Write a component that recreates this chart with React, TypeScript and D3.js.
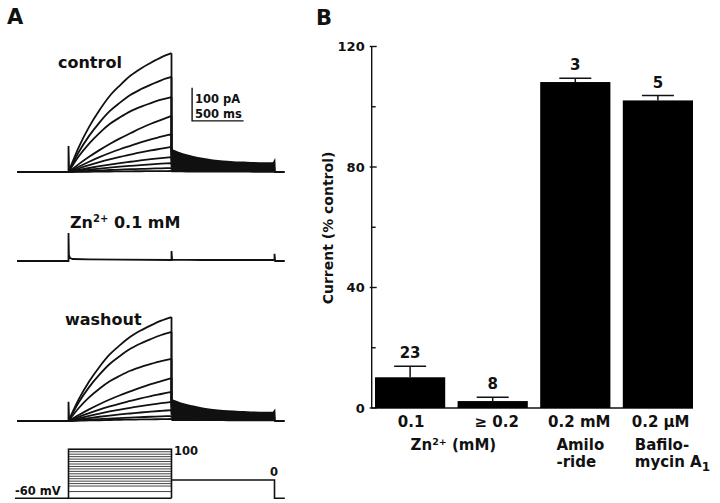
import React from "react";
import * as d3 from "d3";

const W = 720;
const H = 503;
const FONT = "'DejaVu Sans', sans-serif";

// ---------- Panel A data (time in ms, current in pA, voltage in mV) ----------
const onsetT = 500;
const stepEndT = 1500;
const tailEndT = 2500;
const traceEndT = 2600;
const fracGrid = [0, 0.1, 0.2, 0.3, 0.4, 0.5, 0.6, 0.7, 0.8, 0.9, 1.0];
const curvedShape = [0, 0.21, 0.38, 0.52, 0.64, 0.73, 0.81, 0.87, 0.92, 0.965, 1];
const mildShape = [0, 0.14, 0.27, 0.39, 0.5, 0.6, 0.69, 0.78, 0.86, 0.93, 1];
const tailShape = [1, 0.82, 0.7, 0.6, 0.53, 0.48, 0.45, 0.43, 0.41, 0.4, 0.4];

const controlAmps = [360, 288, 227, 170, 115, 76, 45, 27, 12, 3];
const controlTailAmps = [67, 60, 53, 46, 38, 30, 22, 14, 7, 2];
const washoutAmps = [315, 270, 188, 130, 88, 58, 33, 15, 6];
const washoutTailAmps = [64, 58, 50, 42, 34, 26, 18, 10, 5];
const controlSpike = 79;
const washoutSpike = 58;
const controlEndSpike = 33;
const washoutEndSpike = 30;

const znTrace: [number, number][] = [
  [0, 0], [500, 0], [500, 85], [504, 18], [515, 9], [540, 6], [700, 5], [1000, 4],
  [1500, 3], [1500, 30], [1506, 4], [1800, 3], [2200, 3], [2500, 3], [2500, 22],
  [2506, 0], [2600, 0],
];

const stepLevels = [100, 92, 84, 76, 68, 60, 52, 44, 36, 28, 20, 12, 4, -4, -12, -20, -38];
const holdingMV = -60;
const tailMV = 0;

// ---------- Panel B data ----------
const categories = ["0.1", "\u2265 0.2", "0.2 mM", "0.2 \u00b5M"];
const values = [10.2, 2.3, 108.2, 102.1];
const sems = [3.7, 1.3, 1.3, 1.6];
const ns = ["23", "8", "3", "5"];
const majorTicks = [0, 40, 80, 120];
const minorTicks = [20, 60, 100];

export default function App() {
  const x = d3.scaleLinear().domain([0, 2600]).range([17, 284.8]);
  const mkY = (base: number) => d3.scaleLinear().domain([0, 100]).range([base, base - 33]);
  const yC = mkY(172);
  const yZ = mkY(261);
  const yW = mkY(421);
  const v = d3.scaleLinear().domain([-60, 100]).range([498.3, 449.3]);

  const lin = (y: d3.ScaleLinear<number, number>) =>
    d3.line<[number, number]>().x((d) => x(d[0])).y((d) => y(d[1]));
  const mono = (y: d3.ScaleLinear<number, number>) =>
    d3.line<[number, number]>().x((d) => x(d[0])).y((d) => y(d[1])).curve(d3.curveMonotoneX);

  const SW = 1.8;

  const traceSet = (
    amps: number[],
    tails: number[],
    y: d3.ScaleLinear<number, number>,
    spike: number,
    endSpike: number,
    key: string
  ) => {
    const L = lin(y);
    const M = mono(y);
    const tailPts0: [number, number][] = fracGrid.map((f, i) => [
      stepEndT + f * (tailEndT - stepEndT),
      tails[0] * tailShape[i],
    ]);
    const area = d3
      .area<[number, number]>()
      .x((d) => x(d[0]))
      .y0(y(0))
      .y1((d) => y(d[1]))
      .curve(d3.curveMonotoneX);
    const els: React.ReactNode[] = [];
    els.push(<path key={key + "env"} d={area(tailPts0) || ""} fill="#111" />);
    amps.forEach((a, k) => {
      const shape = k < 3 ? curvedShape : mildShape;
      const rise: [number, number][] = fracGrid.map((f, i) => [onsetT + f * (stepEndT - onsetT), a * shape[i]]);
      const tail: [number, number][] = fracGrid.map((f, i) => [
        stepEndT + f * (tailEndT - stepEndT),
        tails[k] * tailShape[i],
      ]);
      const drop: [number, number][] = [
        [stepEndT, a],
        [stepEndT, tails[k]],
      ];
      const d = (M(rise) || "") + (L(drop) || "") + (M(tail) || "");
      els.push(<path key={key + k} d={d} fill="none" stroke="#111" strokeWidth={SW} />);
    });
    const base: [number, number][] = [
      [0, 0],
      [onsetT, 0],
      [onsetT, spike],
      [onsetT + 5, spike * 0.15],
      [onsetT + 20, 4],
    ];
    const endPts: [number, number][] = [
      [tailEndT - 10, tails[0] * tailShape[10]],
      [tailEndT, endSpike],
      [tailEndT + 5, 0],
      [traceEndT, 0],
    ];
    els.push(<path key={key + "base"} d={L(base) || ""} fill="none" stroke="#111" strokeWidth={SW} />);
    els.push(<path key={key + "end"} d={L(endPts) || ""} fill="none" stroke="#111" strokeWidth={SW} />);
    return els;
  };

  // Panel B scales
  const xb = d3.scaleBand<string>().domain(categories).range([375, 693]).paddingInner(0.15).paddingOuter(0);
  const yb = d3.scaleLinear().domain([0, 120]).range([408, 46.5]);
  const axisX = 371.7;

  const tb = { fontFamily: FONT, fontWeight: "bold" as const, fill: "#111" };

  return (
    <svg width={W} height={H} style={{ position: "absolute", left: 0, top: 0, background: "#fff" }}>
      <rect x={0} y={0} width={W} height={H} fill="#fff" />
      {/* Panel letters */}
      <text x={7} y={24} fontSize={21} {...tb}>A</text>
      <text x={316} y={25} fontSize={21} {...tb}>B</text>

      {/* Control */}
      <text x={58} y={68} fontSize={16} {...tb}>control</text>
      {traceSet(controlAmps, controlTailAmps, yC, controlSpike, controlEndSpike, "c")}
      {/* Scale bar */}
      <path
        d={`M${x(1700)},${yC(255)}V${yC(155)}H${x(2200)}`}
        fill="none"
        stroke="#111"
        strokeWidth={1.4}
      />
      <text x={195} y={103} fontSize={11.5} {...tb}>100 pA</text>
      <text x={195} y={118} fontSize={11.5} {...tb}>500 ms</text>

      {/* Zn */}
      <text x={70} y={228} fontSize={16} {...tb}>
        Zn<tspan fontSize={10} dy={-6}>2+</tspan>
        <tspan dy={6}> 0.1 mM</tspan>
      </text>
      <path d={lin(yZ)(znTrace) || ""} fill="none" stroke="#111" strokeWidth={SW} />

      {/* Washout */}
      <text x={65} y={325} fontSize={16} {...tb}>washout</text>
      {traceSet(washoutAmps, washoutTailAmps, yW, washoutSpike, washoutEndSpike, "w")}

      {/* Voltage protocol */}
      {stepLevels.map((mv) => (
        <line key={mv} x1={x(onsetT)} x2={x(stepEndT)} y1={v(mv)} y2={v(mv)} stroke="#444" strokeWidth={1} />
      ))}
      <path
        d={`M${x(-20)},${v(holdingMV)}H${x(stepEndT)}M${x(onsetT)},${v(holdingMV)}V${v(100)}H${x(stepEndT)}V${v(
          holdingMV
        )}M${x(stepEndT)},${v(tailMV)}H${x(tailEndT)}V${v(holdingMV)}H${x(traceEndT)}`}
        fill="none"
        stroke="#111"
        strokeWidth={1.6}
      />
      <text x={174} y={455} fontSize={11.5} {...tb}>100</text>
      <text x={270} y={476} fontSize={11.5} {...tb}>0</text>
      <text x={15} y={495} fontSize={11.5} {...tb}>-60 mV</text>

      {/* Panel B */}
      <line x1={axisX} x2={axisX} y1={yb(120)} y2={yb(0)} stroke="#111" strokeWidth={1.4} />
      <line x1={axisX} x2={693} y1={yb(0)} y2={yb(0)} stroke="#111" strokeWidth={1.6} />
      {majorTicks.map((t) => (
        <g key={t}>
          <line x1={axisX - 2} x2={axisX + 5} y1={yb(t)} y2={yb(t)} stroke="#111" strokeWidth={1.4} />
          <text x={axisX - 7} y={yb(t)} dy="0.36em" textAnchor="end" fontSize={13} {...tb}>
            {t}
          </text>
        </g>
      ))}
      {minorTicks.map((t) => (
        <line key={t} x1={axisX} x2={axisX + 4} y1={yb(t)} y2={yb(t)} stroke="#111" strokeWidth={1.4} />
      ))}
      <text
        transform={`translate(333,228) rotate(-90)`}
        textAnchor="middle"
        fontSize={14}
        {...tb}
      >
        Current (% control)
      </text>
      {categories.map((c, i) => {
        const bx = xb(c) as number;
        const bw = xb.bandwidth();
        const cx = bx + bw / 2;
        const top = yb(values[i] + sems[i]);
        return (
          <g key={c}>
            <rect x={bx} y={yb(values[i])} width={bw} height={yb(0) - yb(values[i])} fill="#000" />
            <line x1={cx} x2={cx} y1={yb(values[i])} y2={top} stroke="#111" strokeWidth={1.5} />
            <line x1={cx - 16} x2={cx + 16} y1={top} y2={top} stroke="#111" strokeWidth={1.5} />
            <text x={cx} y={top - 8} textAnchor="middle" fontSize={15} {...tb}>
              {ns[i]}
            </text>
          </g>
        );
      })}
      {/* category labels */}
      {(() => {
        const c0 = (xb(categories[0]) as number) + xb.bandwidth() / 2;
        const c1 = (xb(categories[1]) as number) + xb.bandwidth() / 2;
        const c2 = (xb(categories[2]) as number) + xb.bandwidth() / 2;
        const b3 = xb(categories[3]) as number;
        const fs = 15;
        return (
          <g>
            <text x={c0 + 1} y={426.7} textAnchor="middle" fontSize={fs} {...tb}>{categories[0]}</text>
            <text x={c1 + 4} y={426.7} textAnchor="middle" fontSize={fs} {...tb}>{categories[1]}</text>
            <text x={c2 + 4} y={426.7} textAnchor="middle" fontSize={fs} {...tb}>{categories[2]}</text>
            <text x={b3 + 9} y={426.7} fontSize={fs} {...tb}>{categories[3]}</text>
            <text x={(c0 + c1) / 2 + 2} y={450} textAnchor="middle" fontSize={fs} {...tb}>
              Zn<tspan fontSize={9.5} dy={-5}>2+</tspan>
              <tspan dy={5}> (mM)</tspan>
            </text>
            <text x={c2 + 5} y={450} textAnchor="middle" fontSize={fs} {...tb}>Amilo</text>
            <text x={c2 + 1} y={466.7} textAnchor="middle" fontSize={fs} {...tb}>-ride</text>
            <text x={b3 + 12} y={450} fontSize={fs} {...tb}>Bafilo-</text>
            <text x={b3 + 12} y={466.7} fontSize={fs} {...tb}>
              mycin A<tspan fontSize={12} dy={4}>1</tspan>
            </text>
          </g>
        );
      })()}
    </svg>
  );
}
